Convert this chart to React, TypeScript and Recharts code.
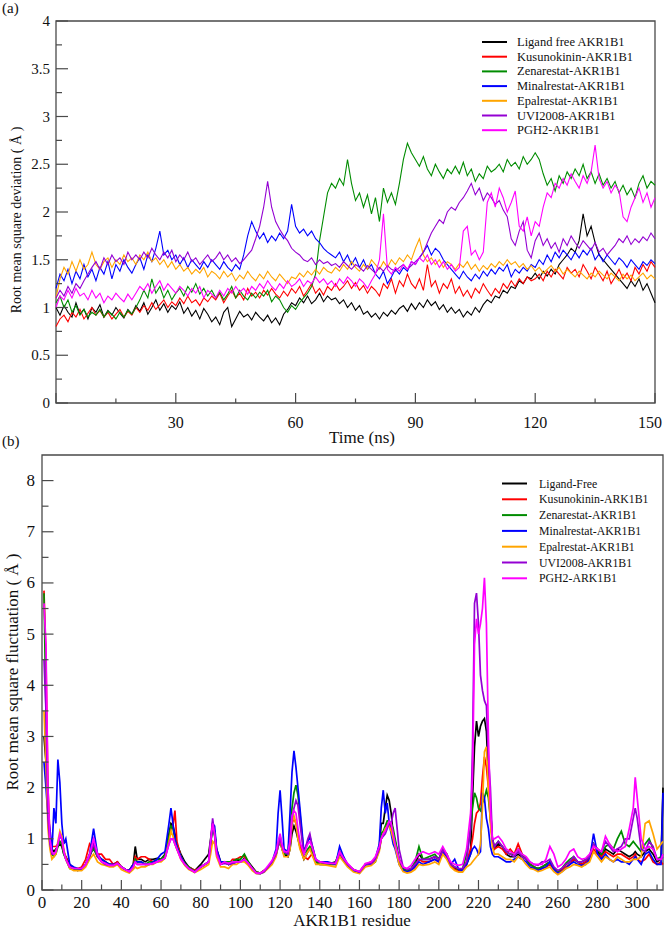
import { LineChart, Line, XAxis, YAxis, ReferenceArea } from "recharts";

// ---------- panel (a): RMSD vs time, one sample per ns ----------
const TIME_NS = Array.from({ length: 151 }, (_, i) => i);

const RMSD_FREE = [
	1.0, 0.92, 1.02, 0.95, 0.9, 1.05, 0.93, 0.98, 0.88, 1.0,
	0.95, 1.03, 0.9, 0.97, 0.92, 1.0, 0.94, 0.89, 0.98, 0.93,
	1.02, 0.96, 1.05, 0.93, 1.0, 1.08, 0.97, 1.04, 0.95, 1.02,
	0.98, 1.06, 0.94, 1.0, 0.91, 0.97, 0.88, 0.99, 0.93, 0.85,
	0.9, 0.82, 0.95, 1.0, 0.8, 0.88, 0.96, 0.9, 0.93, 0.87,
	0.95, 0.9, 0.86, 0.92, 0.84, 0.89, 0.82, 0.93, 0.98, 1.05,
	1.02, 1.1, 1.05, 1.12, 1.04, 1.08, 1.15, 1.06, 1.12, 1.08,
	1.1, 1.04, 1.08, 1.0, 1.05, 0.97, 1.02, 0.93, 0.96, 0.9,
	0.94, 0.88, 0.95, 0.91, 0.97, 0.93, 0.99, 1.02, 0.96, 1.04,
	0.98, 1.05, 1.0, 1.08, 1.02, 1.06, 0.98, 1.03, 0.95, 1.0,
	0.94, 0.98, 0.9, 0.96, 0.92, 1.0, 0.95, 1.03, 1.08, 1.05,
	1.12, 1.1, 1.18, 1.15, 1.22, 1.2, 1.28, 1.25, 1.32, 1.3,
	1.36, 1.3, 1.38, 1.33, 1.4, 1.35, 1.45, 1.5, 1.55, 1.62,
	1.58, 1.7, 1.98, 1.75, 1.85, 1.68, 1.55, 1.5, 1.45, 1.4,
	1.35, 1.3, 1.25, 1.2, 1.28, 1.22, 1.3, 1.18, 1.25, 1.15,
	1.05,
];
const RMSD_KUS = [
	0.8, 0.88, 0.92, 0.85, 0.95, 0.9, 0.98, 0.88, 0.94, 1.0,
	0.92, 0.97, 0.9, 0.95, 0.88, 0.93, 0.98, 0.9, 0.96, 0.92,
	1.0, 0.95, 1.02, 0.97, 1.05, 0.98, 1.03, 1.08, 1.0, 1.06,
	1.02, 1.1, 1.04, 1.12, 1.05, 1.08, 1.02, 1.1, 1.06, 1.12,
	1.08, 1.15, 1.05, 1.12, 1.18, 1.1, 1.15, 1.08, 1.2, 1.12,
	1.16, 1.1, 1.18, 1.13, 1.2, 1.14, 1.1, 1.17, 1.12, 1.2,
	1.15, 1.22, 1.12, 1.18, 1.25, 1.15, 1.2, 1.13, 1.22, 1.18,
	1.25, 1.18, 1.22, 1.28, 1.2, 1.26, 1.18, 1.23, 1.15, 1.22,
	1.18, 1.12, 1.25, 1.2, 1.3, 1.15, 1.28, 1.22, 1.35, 1.25,
	1.2, 1.3, 1.18, 1.45, 1.22, 1.28, 1.15, 1.25, 1.2, 1.3,
	1.15, 1.22, 1.12, 1.18, 1.1, 1.2, 1.15, 1.25, 1.18, 1.12,
	1.2, 1.15, 1.25, 1.2, 1.28, 1.22, 1.3, 1.25, 1.32, 1.28,
	1.3, 1.35, 1.28, 1.38, 1.32, 1.4, 1.35, 1.3, 1.42, 1.36,
	1.4, 1.32, 1.45, 1.38, 1.3, 1.42, 1.35, 1.28, 1.38, 1.25,
	1.32, 1.4, 1.3, 1.36, 1.28, 1.42, 1.35, 1.45, 1.38, 1.48,
	1.42,
];
const RMSD_ZEN = [
	1.05, 1.12, 1.0, 1.08, 0.95, 1.02, 0.92, 0.98, 0.9, 0.95,
	0.92, 0.98, 0.9, 0.96, 0.93, 0.88, 0.95, 0.9, 0.97, 0.93,
	1.0, 1.08, 1.18, 1.1, 1.3, 1.15, 1.22, 1.1, 1.18, 1.08,
	1.15, 1.2, 1.12, 1.22, 1.16, 1.25, 1.14, 1.2, 1.12, 1.18,
	1.1, 1.16, 1.08, 1.14, 1.22, 1.1, 1.18, 1.12, 1.08, 1.15,
	1.1, 1.16, 1.12, 1.18, 1.06, 1.12, 1.08, 1.0, 0.95, 1.02,
	0.98, 1.05, 1.1, 1.15, 1.22, 1.35, 1.7, 1.95, 2.2, 2.3,
	2.25, 2.35, 2.28, 2.55, 2.3, 2.12, 2.2, 2.05, 2.18, 1.98,
	2.15, 1.9, 2.25, 2.1, 2.2, 2.08, 2.3, 2.55, 2.72, 2.62,
	2.55, 2.48, 2.58, 2.45, 2.38, 2.5, 2.42, 2.35, 2.45, 2.4,
	2.48, 2.4, 2.52, 2.38, 2.45, 2.32, 2.4, 2.35, 2.48, 2.42,
	2.45, 2.5, 2.42, 2.55, 2.48, 2.52, 2.45, 2.58, 2.5, 2.55,
	2.62, 2.55, 2.4, 2.28, 2.35, 2.22, 2.38, 2.3, 2.42, 2.35,
	2.45, 2.38, 2.5, 2.35, 2.42, 2.3, 2.4, 2.28, 2.35, 2.25,
	2.32, 2.2, 2.28, 2.18, 2.25, 2.15, 2.3, 2.38, 2.25, 2.32,
	2.28,
];
const RMSD_MIN = [
	1.2, 1.35, 1.28, 1.4, 1.25, 1.38, 1.3, 1.45, 1.32, 1.4,
	1.28, 1.42, 1.35, 1.48, 1.3, 1.45, 1.38, 1.5, 1.42, 1.36,
	1.45, 1.52, 1.4, 1.55, 1.48, 1.62, 1.8, 1.55, 1.6, 1.5,
	1.55, 1.45, 1.52, 1.42, 1.5, 1.45, 1.4, 1.48, 1.42, 1.5,
	1.45, 1.4, 1.48, 1.42, 1.38, 1.45, 1.4, 1.55, 1.75, 1.9,
	1.8, 1.72, 1.78, 1.68, 1.75, 1.7, 1.78, 1.72, 1.8, 2.08,
	1.85, 1.78, 1.82, 1.75, 1.8, 1.72, 1.68, 1.62, 1.58, 1.55,
	1.52, 1.58, 1.48, 1.55, 1.45, 1.52, 1.42, 1.5, 1.4, 1.45,
	1.35, 1.3, 1.38, 1.25, 1.32, 1.4, 1.35, 1.42, 1.38, 1.48,
	1.45, 1.52, 1.58, 1.65, 1.55, 1.62, 1.58, 1.5, 1.45, 1.4,
	1.35, 1.3, 1.38, 1.32, 1.28, 1.35, 1.3, 1.38, 1.33, 1.4,
	1.35, 1.42, 1.38, 1.45, 1.32, 1.4, 1.36, 1.42, 1.38, 1.45,
	1.42, 1.5, 1.45, 1.55, 1.48, 1.58, 1.52, 1.6, 1.55, 1.5,
	1.58, 1.52, 1.6, 1.55, 1.62, 1.5, 1.56, 1.48, 1.55, 1.5,
	1.45, 1.52, 1.48, 1.42, 1.5, 1.45, 1.4, 1.48, 1.44, 1.5,
	1.46,
];
const RMSD_EPA = [
	1.1, 1.3, 1.42, 1.35, 1.48, 1.38, 1.5, 1.4, 1.45, 1.58,
	1.45, 1.4, 1.48, 1.52, 1.42, 1.5, 1.45, 1.55, 1.48, 1.52,
	1.45, 1.55, 1.5, 1.58, 1.48, 1.52, 1.45, 1.5, 1.42, 1.48,
	1.4, 1.45, 1.38, 1.42, 1.35, 1.4, 1.36, 1.42, 1.32, 1.38,
	1.35, 1.3, 1.38, 1.32, 1.36, 1.28, 1.34, 1.3, 1.38, 1.32,
	1.28, 1.35, 1.3, 1.38, 1.32, 1.28, 1.35, 1.3, 1.25, 1.32,
	1.3, 1.36, 1.32, 1.38, 1.34, 1.4, 1.35, 1.42, 1.38, 1.36,
	1.42, 1.38, 1.45, 1.4, 1.48, 1.42, 1.38, 1.45, 1.4, 1.5,
	1.45, 1.4, 1.48, 1.42, 1.5, 1.45, 1.52, 1.48, 1.55, 1.5,
	1.62, 1.72, 1.55, 1.48, 1.52, 1.45, 1.5, 1.42, 1.48, 1.45,
	1.4, 1.46, 1.42, 1.48, 1.4, 1.45, 1.38, 1.44, 1.4, 1.46,
	1.42, 1.48, 1.44, 1.5, 1.45, 1.48, 1.42, 1.46, 1.4, 1.44,
	1.38, 1.42, 1.36, 1.4, 1.44, 1.38, 1.42, 1.35, 1.4, 1.36,
	1.32, 1.38, 1.34, 1.3, 1.36, 1.32, 1.38, 1.34, 1.3, 1.36,
	1.32, 1.28, 1.35, 1.3, 1.34, 1.28, 1.32, 1.36, 1.3, 1.34,
	1.3,
];
const RMSD_UVI = [
	1.1, 1.18, 1.12, 1.22, 1.15, 1.25, 1.2, 1.28, 1.35, 1.42,
	1.48, 1.4, 1.52, 1.45, 1.55, 1.48, 1.52, 1.45, 1.58, 1.5,
	1.55, 1.5, 1.58, 1.52, 1.62, 1.55, 1.5, 1.58, 1.52, 1.6,
	1.48, 1.55, 1.5, 1.58, 1.48, 1.52, 1.45, 1.5, 1.55, 1.48,
	1.52, 1.58, 1.5, 1.55, 1.48, 1.52, 1.46, 1.5, 1.55, 1.6,
	1.72, 1.85, 2.05, 2.32, 2.05, 1.9, 1.82, 1.75, 1.7, 1.62,
	1.58, 1.55, 1.5, 1.48, 1.52, 1.45, 1.5, 1.46, 1.48, 1.44,
	1.46, 1.42, 1.48, 1.44, 1.4, 1.45, 1.42, 1.38, 1.44, 1.4,
	1.36, 1.42, 1.38, 1.44, 1.4, 1.38, 1.42, 1.45, 1.4, 1.44,
	1.48, 1.52, 1.58, 1.68, 1.78, 1.85, 1.92, 1.88, 2.0, 2.05,
	2.02, 2.1, 2.15, 2.22, 2.3, 2.18, 2.25, 2.12, 2.2, 2.15,
	2.08, 2.12, 2.02, 1.95, 1.72, 1.65, 1.8, 1.9, 1.6, 1.52,
	1.7, 1.78, 1.65, 1.72, 1.62, 1.68, 1.58, 1.72, 1.65, 1.75,
	1.68, 1.62, 1.7, 1.65, 1.6, 1.68, 1.58, 1.62, 1.55, 1.6,
	1.65, 1.72, 1.68, 1.75, 1.66, 1.72, 1.68, 1.74, 1.7, 1.78,
	1.72,
];
const RMSD_PGH = [
	1.0, 1.12, 1.08, 1.18, 1.1, 1.2, 1.12, 1.15, 1.08, 1.18,
	1.1, 1.15, 1.05, 1.12, 1.08, 1.15, 1.1, 1.06, 1.14, 1.08,
	1.15, 1.22, 1.18, 1.25, 1.15, 1.22, 1.28, 1.18, 1.25, 1.2,
	1.15, 1.22, 1.18, 1.12, 1.2, 1.15, 1.22, 1.1, 1.18, 1.14,
	1.1, 1.18, 1.12, 1.2, 1.15, 1.22, 1.16, 1.2, 1.14, 1.22,
	1.18, 1.25, 1.2, 1.28, 1.22, 1.18, 1.25, 1.2, 1.28, 1.22,
	1.25, 1.3, 1.22, 1.28, 1.25, 1.32, 1.26, 1.3, 1.24, 1.28,
	1.22, 1.3, 1.25, 1.32, 1.28, 1.22, 1.3, 1.26, 1.2, 1.28,
	1.35, 1.5, 1.98, 1.4, 1.35, 1.42, 1.38, 1.45, 1.4, 1.48,
	1.45, 1.52, 1.48, 1.55, 1.45, 1.5, 1.42, 1.48, 1.4, 1.45,
	1.38, 1.42, 1.8, 1.85, 1.55, 1.6, 1.5, 1.58, 2.1, 2.2,
	2.05, 2.25, 2.15, 2.0, 2.1, 2.22, 1.85, 1.8, 1.95, 1.75,
	1.9, 1.85, 2.05, 2.2, 2.15, 2.3, 2.25, 2.35, 2.28, 2.4,
	2.32, 2.25, 2.38, 2.3, 2.42, 2.7, 2.35, 2.25, 2.32, 2.2,
	2.28, 2.22, 1.95, 1.9, 2.05, 2.15, 2.25, 2.1, 2.2, 2.05,
	2.15,
];

// ---------- panel (b): RMSF per residue ----------
const RESIDUES = [
	1, 2, 3, 4, 5, 6, 7, 8, 9, 10, 11, 12,
	14, 16, 18, 20, 22, 24, 26, 28, 30, 32, 34, 36, 38, 40, 42, 44, 46, 47, 48,
	50, 52, 54, 56, 58, 60, 62, 64, 65, 66, 67, 68, 70, 72, 74, 77, 80, 82, 84, 85, 86, 87, 88, 90,
	92, 94, 96, 98, 100, 102, 104, 106, 108, 110, 112, 114, 116, 118, 119, 120, 121, 122, 124,
	125, 126, 127, 128, 129, 130, 132, 134, 135, 136, 138, 140, 144, 148, 150, 152, 154, 157, 160,
	163, 166, 168, 170, 171, 172, 173, 174, 175, 176, 177, 178, 180, 182, 184, 186, 188, 190, 192,
	195, 198, 200, 202, 204, 206, 208, 210, 212, 214, 216, 217, 218, 219, 220, 221, 222, 223, 224, 225, 226, 227, 228,
	230, 232, 234, 236, 238, 240, 242, 244, 246, 248, 250, 252, 254, 256, 258, 260, 262, 264, 266, 268,
	270, 272, 274, 276, 278, 280, 282, 284, 286, 288, 290, 292, 294, 296, 298, 299, 300, 302, 304, 306, 308, 310, 312, 313,
];

const RMSF_FREE = [
	3.0, 2.5, 1.5, 1.0, 0.8, 0.75, 0.8, 0.85, 0.9, 0.85, 0.7, 0.65,
	0.5, 0.42, 0.38, 0.42, 0.5, 0.65, 0.85, 0.65, 0.6, 0.55, 0.5, 0.5, 0.55, 0.45, 0.4, 0.38, 0.5, 0.85, 0.6,
	0.6, 0.55, 0.6, 0.6, 0.62, 0.6, 0.7, 1.1, 1.3, 1.25, 1.1, 0.9, 0.7, 0.55, 0.45, 0.38, 0.5, 0.6, 0.7, 1.0, 1.3, 1.15, 0.8, 0.55,
	0.55, 0.5, 0.55, 0.6, 0.55, 0.62, 0.55, 0.45, 0.35, 0.33, 0.38, 0.45, 0.55, 0.7, 0.85, 0.95, 0.8, 0.7, 0.65,
	0.8, 1.1, 1.25, 1.15, 1.0, 0.85, 0.6, 0.75, 0.8, 0.75, 0.55, 0.55, 0.5, 0.55, 0.75, 0.6, 0.5, 0.4, 0.35,
	0.5, 0.5, 0.6, 0.85, 1.3, 1.3, 1.6, 1.85, 1.75, 1.5, 1.1, 0.95, 0.6, 0.42, 0.38, 0.4, 0.5, 0.7, 0.6,
	0.6, 0.65, 0.6, 0.8, 0.7, 0.5, 0.42, 0.38, 0.38, 0.5, 0.7, 1.8, 2.8, 3.3, 3.0, 3.2, 3.3, 3.35, 3.1, 2.2, 1.6, 1.0, 0.8,
	0.9, 0.85, 0.7, 0.65, 0.65, 0.7, 0.65, 0.6, 0.5, 0.45, 0.42, 0.45, 0.5, 0.55, 0.42, 0.33, 0.4, 0.5, 0.55, 0.6,
	0.55, 0.5, 0.55, 0.65, 0.9, 0.75, 0.65, 0.8, 0.75, 0.7, 0.8, 0.75, 0.7, 0.65, 0.7, 0.75, 0.7, 0.65, 0.75, 0.8, 0.7, 0.55, 0.6, 2.0,
];
const RMSF_KUS = [
	5.85, 4.5, 2.0, 1.0, 0.85, 0.85, 0.85, 0.9, 0.95, 0.9, 0.75, 0.65,
	0.45, 0.42, 0.42, 0.45, 0.6, 0.9, 0.8, 0.7, 0.7, 0.6, 0.6, 0.5, 0.55, 0.45, 0.4, 0.38, 0.5, 0.65, 0.6,
	0.65, 0.65, 0.6, 0.55, 0.55, 0.58, 0.65, 1.0, 1.2, 1.25, 1.55, 0.95, 0.65, 0.5, 0.45, 0.38, 0.45, 0.5, 0.55, 0.9, 1.25, 1.1, 0.75, 0.5,
	0.55, 0.5, 0.6, 0.6, 0.65, 0.65, 0.5, 0.42, 0.35, 0.33, 0.38, 0.45, 0.55, 0.7, 0.9, 1.0, 0.8, 0.7, 0.7,
	0.85, 1.3, 1.4, 1.3, 1.1, 0.9, 0.65, 0.6, 0.65, 0.7, 0.55, 0.5, 0.5, 0.5, 0.7, 0.6, 0.48, 0.38, 0.35,
	0.5, 0.55, 0.6, 0.8, 1.0, 1.1, 1.2, 1.3, 1.3, 1.2, 1.0, 0.9, 0.55, 0.4, 0.35, 0.38, 0.45, 0.6, 0.55,
	0.55, 0.6, 0.55, 0.75, 0.65, 0.5, 0.4, 0.38, 0.4, 0.55, 0.8, 1.0, 1.3, 1.5, 1.55, 1.7, 2.2, 2.6, 2.4, 2.0, 1.4, 0.95, 0.8,
	0.85, 0.8, 0.7, 0.8, 0.7, 0.9, 0.7, 0.6, 0.5, 0.45, 0.4, 0.42, 0.45, 0.5, 0.4, 0.33, 0.38, 0.45, 0.5, 0.6,
	0.55, 0.5, 0.55, 0.6, 0.8, 0.7, 0.65, 0.75, 0.7, 0.65, 0.7, 0.7, 0.65, 0.6, 0.65, 0.7, 0.6, 0.55, 0.6, 0.7, 0.55, 0.5, 0.55, 0.5,
];
const RMSF_ZEN = [
	5.8, 3.5, 1.6, 0.9, 0.7, 0.65, 0.7, 0.85, 0.95, 0.9, 0.7, 0.6,
	0.42, 0.4, 0.4, 0.42, 0.5, 0.7, 0.8, 0.65, 0.6, 0.55, 0.5, 0.48, 0.52, 0.45, 0.4, 0.36, 0.48, 0.6, 0.55,
	0.55, 0.5, 0.55, 0.55, 0.6, 0.6, 0.68, 1.05, 1.25, 1.2, 1.0, 0.85, 0.65, 0.52, 0.45, 0.36, 0.45, 0.5, 0.55, 0.9, 1.25, 1.05, 0.75, 0.5,
	0.55, 0.55, 0.55, 0.6, 0.6, 0.7, 0.55, 0.42, 0.35, 0.33, 0.38, 0.45, 0.55, 0.7, 0.9, 1.05, 0.85, 0.7, 0.7,
	1.2, 1.6, 1.9, 2.05, 1.85, 1.5, 0.7, 0.8, 0.85, 0.8, 0.55, 0.5, 0.5, 0.5, 0.75, 0.6, 0.5, 0.38, 0.35,
	0.5, 0.5, 0.55, 0.8, 1.1, 1.15, 1.25, 1.35, 1.35, 1.3, 1.2, 1.0, 0.6, 0.4, 0.38, 0.42, 0.55, 0.85, 0.6,
	0.65, 0.7, 0.6, 0.8, 0.7, 0.5, 0.45, 0.4, 0.42, 0.7, 1.2, 1.6, 1.9, 1.8, 1.6, 1.55, 1.7, 1.8, 1.95, 1.8, 1.4, 1.0, 0.85,
	0.95, 0.85, 0.75, 0.7, 0.7, 0.8, 0.7, 0.6, 0.5, 0.45, 0.42, 0.45, 0.5, 0.55, 0.42, 0.36, 0.42, 0.52, 0.6, 0.65,
	0.55, 0.55, 0.6, 0.65, 0.9, 0.8, 0.7, 0.85, 0.9, 0.8, 1.0, 1.15, 0.9, 0.85, 0.95, 0.9, 0.85, 0.75, 0.9, 1.0, 0.8, 0.6, 0.65, 0.7,
];
const RMSF_MIN = [
	2.5, 2.0, 1.45, 1.2, 0.75, 1.6, 1.3, 2.55, 2.1, 1.3, 0.9, 1.0,
	0.5, 0.45, 0.42, 0.4, 0.5, 0.7, 1.2, 0.7, 0.6, 0.55, 0.5, 0.5, 0.5, 0.45, 0.4, 0.38, 0.5, 0.55, 0.55,
	0.55, 0.5, 0.5, 0.55, 0.6, 0.7, 0.75, 1.3, 1.6, 1.3, 1.0, 0.85, 0.65, 0.5, 0.42, 0.35, 0.45, 0.5, 0.55, 0.9, 1.3, 1.25, 0.8, 0.55,
	0.55, 0.5, 0.5, 0.55, 0.55, 0.6, 0.5, 0.4, 0.33, 0.32, 0.35, 0.45, 0.55, 0.8, 1.5, 1.95, 1.4, 0.8, 0.75,
	1.5, 2.3, 2.72, 2.4, 2.0, 1.6, 0.75, 0.95, 1.05, 0.9, 0.6, 0.55, 0.55, 0.5, 0.85, 0.65, 0.5, 0.38, 0.33,
	0.5, 0.5, 0.6, 0.9, 1.6, 1.95, 1.5, 1.7, 1.3, 1.1, 0.9, 0.8, 0.5, 0.38, 0.35, 0.38, 0.45, 0.55, 0.5,
	0.55, 0.6, 0.55, 0.75, 0.65, 0.5, 0.6, 0.4, 0.38, 0.5, 0.7, 0.8, 0.85, 0.8, 0.7, 0.75, 1.9, 1.8, 1.4, 1.2, 0.85, 0.7, 0.65,
	0.65, 0.6, 0.55, 0.55, 0.6, 0.65, 0.6, 0.55, 0.45, 0.42, 0.38, 0.42, 0.45, 0.55, 0.4, 0.32, 0.36, 0.42, 0.5, 0.55,
	0.5, 0.48, 0.5, 0.6, 1.1, 0.7, 0.6, 0.7, 0.6, 0.55, 0.6, 0.55, 0.55, 0.5, 0.6, 0.65, 0.6, 0.5, 0.7, 0.75, 0.6, 0.5, 0.5, 1.9,
];
const RMSF_EPA = [
	3.5, 2.5, 1.2, 0.8, 0.6, 0.65, 0.7, 0.95, 1.15, 1.05, 0.8, 0.6,
	0.42, 0.38, 0.38, 0.38, 0.45, 0.6, 0.7, 0.55, 0.5, 0.48, 0.45, 0.45, 0.5, 0.4, 0.36, 0.33, 0.4, 0.45, 0.42,
	0.45, 0.45, 0.5, 0.5, 0.55, 0.55, 0.62, 0.95, 1.15, 1.05, 0.9, 0.8, 0.6, 0.48, 0.4, 0.34, 0.4, 0.45, 0.5, 0.7, 0.95, 0.9, 0.65, 0.45,
	0.45, 0.42, 0.5, 0.5, 0.55, 0.55, 0.48, 0.38, 0.32, 0.32, 0.35, 0.42, 0.5, 0.65, 0.85, 1.0, 0.8, 0.65, 0.65,
	0.8, 1.3, 1.45, 1.3, 1.0, 0.8, 0.6, 0.75, 0.8, 0.7, 0.5, 0.5, 0.48, 0.45, 0.65, 0.55, 0.45, 0.35, 0.32,
	0.45, 0.48, 0.55, 0.75, 1.0, 1.1, 1.2, 1.25, 1.25, 1.15, 1.0, 0.85, 0.5, 0.36, 0.33, 0.35, 0.4, 0.5, 0.48,
	0.5, 0.55, 0.5, 0.7, 0.6, 0.45, 0.38, 0.35, 0.35, 0.45, 0.5, 0.55, 0.6, 0.65, 0.7, 0.9, 1.6, 2.7, 2.8, 2.0, 1.3, 0.85, 0.7,
	0.7, 0.65, 0.6, 0.6, 0.55, 0.65, 0.6, 0.5, 0.42, 0.4, 0.36, 0.38, 0.42, 0.45, 0.36, 0.3, 0.35, 0.42, 0.45, 0.5,
	0.48, 0.45, 0.5, 0.55, 0.75, 0.65, 0.55, 0.65, 0.6, 0.55, 0.65, 0.6, 0.55, 0.55, 0.6, 0.6, 0.6, 0.65, 1.3, 1.35, 1.1, 0.8, 0.9, 0.95,
];
const RMSF_UVI = [
	4.5, 3.5, 1.4, 0.9, 0.7, 0.7, 0.75, 0.9, 1.05, 1.0, 0.75, 0.6,
	0.45, 0.42, 0.42, 0.42, 0.5, 0.65, 0.9, 0.65, 0.55, 0.5, 0.48, 0.48, 0.52, 0.45, 0.4, 0.36, 0.45, 0.55, 0.5,
	0.5, 0.5, 0.5, 0.52, 0.55, 0.58, 0.62, 0.9, 1.0, 1.0, 0.9, 0.8, 0.62, 0.5, 0.42, 0.35, 0.45, 0.5, 0.55, 0.95, 1.4, 1.1, 0.75, 0.5,
	0.52, 0.5, 0.52, 0.55, 0.55, 0.6, 0.52, 0.42, 0.33, 0.32, 0.36, 0.45, 0.55, 0.7, 0.85, 1.0, 0.85, 0.75, 0.7,
	0.9, 1.4, 1.6, 1.75, 1.65, 1.3, 0.7, 1.0, 1.1, 0.9, 0.58, 0.55, 0.52, 0.52, 0.72, 0.6, 0.5, 0.4, 0.35,
	0.5, 0.52, 0.6, 0.8, 1.0, 1.05, 1.1, 1.2, 1.3, 1.3, 1.5, 1.6, 0.8, 0.45, 0.4, 0.42, 0.5, 0.6, 0.6,
	0.6, 0.65, 0.6, 0.78, 0.68, 0.5, 0.45, 0.42, 0.42, 0.55, 1.2, 2.8, 5.6, 5.8, 5.2, 4.2, 3.9, 3.7, 3.6, 2.6, 2.0, 1.0, 0.85,
	0.95, 0.85, 0.75, 0.7, 0.65, 0.75, 0.65, 0.6, 0.55, 0.5, 0.48, 0.55, 0.55, 0.6, 0.45, 0.38, 0.42, 0.5, 0.55, 0.65,
	0.55, 0.55, 0.58, 0.65, 0.9, 0.8, 0.75, 0.95, 0.85, 0.75, 0.8, 0.85, 1.0, 1.0, 1.4, 1.6, 1.4, 0.8, 0.75, 0.95, 0.85, 0.6, 0.6, 0.65,
];
const RMSF_PGH = [
	5.6, 4.8, 2.0, 1.0, 0.75, 0.7, 0.75, 0.9, 1.1, 1.0, 0.75, 0.6,
	0.45, 0.42, 0.42, 0.42, 0.5, 0.7, 1.0, 0.7, 0.55, 0.52, 0.48, 0.48, 0.52, 0.45, 0.4, 0.36, 0.45, 0.55, 0.5,
	0.5, 0.5, 0.5, 0.52, 0.55, 0.58, 0.62, 0.9, 1.0, 1.0, 0.9, 0.8, 0.6, 0.5, 0.42, 0.35, 0.45, 0.5, 0.55, 0.95, 1.3, 1.1, 0.7, 0.5,
	0.55, 0.52, 0.55, 0.55, 0.55, 0.6, 0.52, 0.42, 0.33, 0.33, 0.38, 0.48, 0.58, 0.75, 0.95, 1.1, 0.9, 0.75, 0.75,
	0.95, 1.45, 1.55, 1.5, 1.2, 0.95, 0.7, 0.9, 0.95, 0.85, 0.6, 0.55, 0.52, 0.52, 0.75, 0.62, 0.52, 0.4, 0.36,
	0.52, 0.55, 0.65, 0.85, 1.0, 1.1, 1.15, 1.25, 1.35, 1.3, 1.1, 0.9, 0.6, 0.45, 0.42, 0.48, 0.6, 0.7, 0.75,
	0.7, 0.75, 0.7, 0.85, 0.7, 0.55, 0.5, 0.48, 0.5, 0.8, 1.5, 2.2, 4.8, 5.3, 5.0, 5.2, 5.5, 6.1, 5.2, 3.0, 1.6, 1.0, 1.0,
	1.05, 0.95, 0.8, 0.75, 0.7, 0.8, 0.7, 0.65, 0.55, 0.5, 0.5, 0.5, 0.6, 0.85, 0.7, 0.45, 0.5, 0.6, 0.75, 0.8,
	0.65, 0.6, 0.62, 0.7, 0.85, 0.8, 0.75, 1.05, 0.9, 0.8, 0.75, 0.8, 0.85, 1.2, 1.6, 2.2, 1.8, 1.0, 0.8, 0.85, 0.8, 0.6, 0.6, 0.7,
];

const SERIES = [
	{ key: "free", color: "#000000", rmsd: RMSD_FREE, rmsf: RMSF_FREE, nameA: "Ligand free AKR1B1", nameB: "Ligand-Free" },
	{ key: "kus", color: "#ff0000", rmsd: RMSD_KUS, rmsf: RMSF_KUS, nameA: "Kusunokinin-AKR1B1", nameB: "Kusunokinin-ARK1B1" },
	{ key: "zen", color: "#008c00", rmsd: RMSD_ZEN, rmsf: RMSF_ZEN, nameA: "Zenarestat-AKR1B1", nameB: "Zenarestat-AKR1B1" },
	{ key: "min", color: "#0000ff", rmsd: RMSD_MIN, rmsf: RMSF_MIN, nameA: "Minalrestat-AKR1B1", nameB: "Minalrestat-AKR1B1" },
	{ key: "epa", color: "#ffa500", rmsd: RMSD_EPA, rmsf: RMSF_EPA, nameA: "Epalrestat-AKR1B1", nameB: "Epalrestat-AKR1B1" },
	{ key: "uvi", color: "#9400d3", rmsd: RMSD_UVI, rmsf: RMSF_UVI, nameA: "UVI2008-AKR1B1", nameB: "UVI2008-AKR1B1" },
	{ key: "pgh", color: "#ff00ff", rmsd: RMSD_PGH, rmsf: RMSF_PGH, nameA: "PGH2-AKR1B1", nameB: "PGH2-ARK1B1" },
];

const FONT = '"Liberation Serif", "Times New Roman", serif';
const FRAME = "#4a4a4a";

const isStep = (v: number, step: number) =>
	Math.abs(v / step - Math.round(v / step)) < 1e-6;

function range(from: number, to: number, step: number) {
	const out: number[] = [];
	for (let v = from; v <= to + 1e-9; v += step) out.push(Math.round(v * 100) / 100);
	return out;
}

// inward ticks like xmgrace, labels outside
function makeXTick(o: { major: number; majorLen: number; minorLen: number; margin: number; labelGap: number; fontSize: number; skipZero?: boolean; maxRight?: number }) {
	return function XTick(props: any) {
		const { x, y, payload } = props;
		const v = payload.value as number;
		const major = isStep(v, o.major);
		const axisY = y - o.margin;
		// keep the last label inside the page
		const halfW = (String(v).length * o.fontSize * 0.5) / 2;
		const tx = o.maxRight && x + halfW > o.maxRight ? o.maxRight - halfW : x;
		return (
			<g>
				<line x1={x} x2={x} y1={axisY} y2={axisY - (major ? o.majorLen : o.minorLen)} stroke={FRAME} strokeWidth={1.2} />
				{major && !(o.skipZero && v === 0) && (
					<text x={tx} y={axisY + o.labelGap} textAnchor="middle" dominantBaseline="central" fontFamily={FONT} fontSize={o.fontSize} fill="#111">
						{v}
					</text>
				)}
			</g>
		);
	};
}

function makeYTick(o: { major: number; majorLen: number; minorLen: number; margin: number; fontSize: number }) {
	return function YTick(props: any) {
		const { x, y, payload } = props;
		const v = payload.value as number;
		const major = isStep(v, o.major);
		const axisX = x + o.margin;
		return (
			<g>
				<line x1={axisX} x2={axisX + (major ? o.majorLen : o.minorLen)} y1={y} y2={y} stroke={FRAME} strokeWidth={1.2} />
				{major && (
					<text x={x} y={y} textAnchor="end" dominantBaseline="central" fontFamily={FONT} fontSize={o.fontSize} fill="#111">
						{v}
					</text>
				)}
			</g>
		);
	};
}

const rmsdRows = TIME_NS.map((t, i) => {
	const row: Record<string, number> = { t };
	SERIES.forEach((s) => (row[s.key] = s.rmsd[i]));
	return row;
});

const rmsfRows = RESIDUES.map((r, i) => {
	const row: Record<string, number> = { r };
	SERIES.forEach((s) => (row[s.key] = s.rmsf[i]));
	return row;
});

function LegendBox({ x, y, gap, fontSize, lineLen, textGap, names }: { x: number; y: number; gap: number; fontSize: number; lineLen: number; textGap: number; names: string[] }) {
	return (
		<g>
			{SERIES.map((s, i) => (
				<g key={s.key}>
					<line x1={x} x2={x + lineLen} y1={y + i * gap} y2={y + i * gap} stroke={s.color} strokeWidth={2} />
					<text x={x + lineLen + textGap} y={y + i * gap} dominantBaseline="central" fontFamily={FONT} fontSize={fontSize} fill="#111">
						{names[i]}
					</text>
				</g>
			))}
		</g>
	);
}

export default function App() {
	return (
		<div style={{ position: "absolute", left: 0, top: 0, width: 664, height: 928, background: "#fff", overflow: "hidden" }}>
			{/* (a) RMSD */}
			<div style={{ position: "absolute", left: 0, top: 0 }}>
				<LineChart width={664} height={450} data={rmsdRows} margin={{ top: 21, right: 9, bottom: 17, left: 0 }}>
					<XAxis
						dataKey="t"
						type="number"
						domain={[0, 150]}
						ticks={range(0, 150, 15)}
						interval={0}
						axisLine={false}
						tickLine={false}
						tickSize={0}
						tickMargin={8}
						height={30}
						tick={makeXTick({ major: 30, majorLen: 10, minorLen: 4.5, margin: 8, labelGap: 19, fontSize: 16, skipZero: true, maxRight: 662 })}
					/>
					<YAxis
						type="number"
						domain={[0, 4]}
						ticks={range(0, 4, 0.25)}
						interval={0}
						axisLine={false}
						tickLine={false}
						tickSize={0}
						tickMargin={6}
						width={56}
						tick={makeYTick({ major: 0.5, majorLen: 12, minorLen: 6, margin: 6, fontSize: 15 })}
					/>
					<ReferenceArea x1={0} x2={150} y1={0} y2={4} fill="none" stroke={FRAME} strokeWidth={1.3} />
					{SERIES.map((s) => (
						<Line key={s.key} dataKey={s.key} type="linear" stroke={s.color} strokeWidth={1.1} dot={false} isAnimationActive={false} />
					))}
				</LineChart>
			</div>

			{/* (b) RMSF */}
			<div style={{ position: "absolute", left: 0, top: 440 }}>
				<LineChart width={664} height={488} data={rmsfRows} margin={{ top: 15, right: 1, bottom: 8, left: 0 }}>
					<XAxis
						dataKey="r"
						type="number"
						domain={[0, 313]}
						ticks={range(0, 310, 10)}
						interval={0}
						axisLine={false}
						tickLine={false}
						tickSize={0}
						tickMargin={8}
						height={30}
						tick={makeXTick({ major: 20, majorLen: 10, minorLen: 5.5, margin: 8, labelGap: 12, fontSize: 17 })}
					/>
					<YAxis
						type="number"
						domain={[0, 8.5]}
						ticks={range(0, 8, 0.5)}
						interval={0}
						axisLine={false}
						tickLine={false}
						tickSize={0}
						tickMargin={7}
						width={42}
						tick={makeYTick({ major: 1, majorLen: 11.5, minorLen: 6.5, margin: 7, fontSize: 17 })}
					/>
					<ReferenceArea x1={0} x2={313} y1={0} y2={8.5} fill="none" stroke={FRAME} strokeWidth={1.3} />
					{SERIES.map((s) => (
						<Line key={s.key} dataKey={s.key} type="linear" stroke={s.color} strokeWidth={1.7} dot={false} isAnimationActive={false} />
					))}
				</LineChart>
			</div>

			{/* titles and legends */}
			<svg width={664} height={928} style={{ position: "absolute", left: 0, top: 0, pointerEvents: "none" }}>
				<text x={2} y={13} fontFamily={FONT} fontSize={15} fill="#111">(a)</text>
				<text x={2} y={446} fontFamily={FONT} fontSize={15} fill="#111">(b)</text>
				<text transform="translate(16,220) rotate(-90)" textAnchor="middle" dominantBaseline="central" fontFamily={FONT} fontSize={14} fill="#111">
					Root mean square deviation ( Å )
				</text>
				<text x={362} y={437} textAnchor="middle" dominantBaseline="central" fontFamily={FONT} fontSize={17} fill="#111">
					Time (ns)
				</text>
				<text transform="translate(12,672) rotate(-90)" textAnchor="middle" dominantBaseline="central" fontFamily={FONT} fontSize={17} fill="#111">
					Root mean square fluctuation ( Å )
				</text>
				<text x={352} y={920} textAnchor="middle" dominantBaseline="central" fontFamily={FONT} fontSize={17} fill="#111">
					AKR1B1 residue
				</text>
				<LegendBox x={482} y={42} gap={14.7} fontSize={12.5} lineLen={25} textGap={10} names={SERIES.map((s) => s.nameA)} />
				<LegendBox x={502} y={483.5} gap={15.8} fontSize={11.8} lineLen={25} textGap={12} names={SERIES.map((s) => s.nameB)} />
			</svg>
		</div>
	);
}
